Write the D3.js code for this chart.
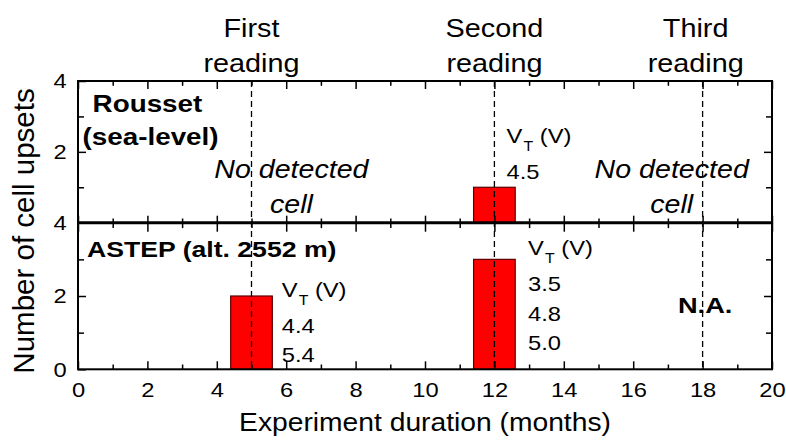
<!DOCTYPE html>
<html>
<head>
<meta charset="utf-8">
<script src="https://cdn.jsdelivr.net/npm/d3@7"></script>
<style>
  body { margin: 0; background: #fff; }
  svg { display: block; font-family: "Liberation Sans", Arial, sans-serif; }
</style>
</head>
<body>
<svg id="chart" width="786" height="440"></svg>
<script>
// data
const xMajor = [0, 2, 4, 6, 8, 10, 12, 14, 16, 18, 20];
const xMinor = [1, 3, 5, 7, 9, 11, 13, 15, 17, 19];
const readingMonths = [5, 12, 18];
const readingLabels = [['First', 'reading'], ['Second', 'reading'], ['Third', 'reading']];

const roussetBins = [[11.4, 12.6]];
const roussetCounts = [1];
const roussetVt = [['4.5']];

const astepBins = [[4.4, 5.6], [11.4, 12.6]];
const astepCounts = [2, 3];
const astepVt = [['4.4', '5.4'], ['3.5', '4.8', '5.0']];

const SX = 1.13; // glyphs in the figure are a bit wider than Arial
const SXB = 1.21; // same for the bold labels
const svg = d3.select('#chart');

const x = d3.scaleLinear().domain([0, 20]).range([78, 772]);
const yTop = d3.scaleLinear().domain([0, 4]).range([222.7, 81]);
const yBot = d3.scaleLinear().domain([0, 4]).range([369.3, 222.7]);

function label(g, px, py, str, o = {}) {
  return g.append('text')
    .attr('transform', `translate(${px},${py}) scale(${o.sx ?? SX},1)`)
    .attr('text-anchor', o.anchor || 'start')
    .attr('font-size', o.size || 21)
    .attr('font-weight', o.weight || 'normal')
    .attr('font-style', o.style || 'normal')
    .attr('fill', '#000')
    .text(str);
}

// styles an axis group: strip domain, set tick strokes
function styleAxis(g, width) {
  g.select('.domain').remove();
  g.selectAll('line').attr('stroke', '#000').attr('stroke-width', width || 1.5);
}

// bars
function drawBars(bins, counts, y) {
  svg.append('g').selectAll('rect')
    .data(bins)
    .join('rect')
    .attr('x', d => x(d[0]))
    .attr('width', d => x(d[1]) - x(d[0]))
    .attr('y', (d, i) => y(counts[i]))
    .attr('height', (d, i) => y(0) - y(counts[i]))
    .attr('fill', '#ff0000')
    .attr('stroke', '#5a0000')
    .attr('stroke-width', 1.2);
}
drawBars(roussetBins, roussetCounts, yTop);
drawBars(astepBins, astepCounts, yBot);

// dashed reading lines
svg.append('g').selectAll('line')
  .data(readingMonths)
  .join('line')
  .attr('x1', d => x(d)).attr('x2', d => x(d))
  .attr('y1', yTop(4)).attr('y2', yBot(0))
  .attr('stroke', '#000')
  .attr('stroke-width', 1.3)
  .attr('stroke-dasharray', '6,4');

// x ticks
const xAxes = [
  { y: yTop(4), gen: d3.axisTop, size: -8 },
  { y: yTop(0), gen: d3.axisBottom, size: -7 },
  { y: yBot(4), gen: d3.axisTop, size: -9 },
  { y: yBot(0), gen: d3.axisBottom, size: -8, labels: true }
];
xAxes.forEach(a => {
  const major = svg.append('g').attr('transform', `translate(0,${a.y})`)
    .call(a.gen(x).tickValues(xMajor).tickSize(a.size).tickSizeOuter(0).tickPadding(13)
      .tickFormat(a.labels ? d3.format('d') : ''));
  styleAxis(major);
  major.selectAll('text')
    .attr('font-size', 21).attr('fill', '#000')
    .attr('font-family', '"Liberation Sans", Arial, sans-serif')
    .attr('transform', `scale(${SX},1)`);
  const minor = svg.append('g').attr('transform', `translate(0,${a.y})`)
    .call(a.gen(x).tickValues(xMinor).tickSize(a.size * 0.6).tickSizeOuter(0).tickFormat(''));
  styleAxis(minor);
});

// y ticks
function yAxes(y, labelVals) {
  const left = svg.append('g').attr('transform', `translate(${x(0)},0)`)
    .call(d3.axisLeft(y).tickValues([0, 2, 4]).tickSize(-8).tickSizeOuter(0).tickPadding(10)
      .tickFormat(d => labelVals.includes(d) ? d : ''));
  styleAxis(left);
  left.selectAll('text')
    .attr('font-size', 21).attr('fill', '#000')
    .attr('font-family', '"Liberation Sans", Arial, sans-serif')
    .attr('transform', `scale(${SX},1)`);
  styleAxis(svg.append('g').attr('transform', `translate(${x(0)},0)`)
    .call(d3.axisLeft(y).tickValues([1, 3]).tickSize(-6).tickSizeOuter(0).tickFormat('')));
  styleAxis(svg.append('g').attr('transform', `translate(${x(20)},0)`)
    .call(d3.axisRight(y).tickValues([2]).tickSize(-8).tickSizeOuter(0).tickFormat('')));
  styleAxis(svg.append('g').attr('transform', `translate(${x(20)},0)`)
    .call(d3.axisRight(y).tickValues([1, 3]).tickSize(-6).tickSizeOuter(0).tickFormat('')));
}
yAxes(yTop, [2, 4]);
yAxes(yBot, [0, 2, 4]);

// frame
svg.append('rect')
  .attr('x', x(0)).attr('y', yTop(4))
  .attr('width', x(20) - x(0)).attr('height', yBot(0) - yTop(4))
  .attr('fill', 'none').attr('stroke', '#000').attr('stroke-width', 2);
svg.append('line')
  .attr('x1', x(0)).attr('x2', x(20))
  .attr('y1', yTop(0)).attr('y2', yTop(0))
  .attr('stroke', '#000').attr('stroke-width', 3);

// reading labels above the plot
readingMonths.forEach((m, i) => {
  const cx = i === 2 ? x(17.8) : x(m);
  label(svg, cx, 37, readingLabels[i][0], { anchor: 'middle', size: 25.5 });
  label(svg, cx, 71.5, readingLabels[i][1], { anchor: 'middle', size: 25.5 });
});

// panel titles
label(svg, x(0.42), yTop(3.13), 'Rousset', { weight: 'bold', size: 23, sx: SXB });
label(svg, x(0.13), yTop(2.18), '(sea-level)', { weight: 'bold', size: 23, sx: SXB });
label(svg, x(0.26), yBot(3.07), 'ASTEP (alt. 2552 m)', { weight: 'bold', size: 22, sx: SXB });
label(svg, x(17.29), yBot(1.53), 'N.A.', { weight: 'bold', size: 22.5, sx: SXB });

// "No detected cell"
[6.15, 17.11].forEach(cx => {
  label(svg, x(cx), yTop(1.26), 'No detected', { anchor: 'middle', style: 'italic', size: 26, sx: 1.1 });
  label(svg, x(cx), yTop(0.27), 'cell', { anchor: 'middle', style: 'italic', size: 26, sx: 1.1 });
});

// threshold voltage blocks
function vtBlock(px, py, values) {
  const t = label(svg, px, py, 'V', { size: 21 });
  t.append('tspan').attr('font-size', 14).attr('dx', 1).attr('dy', 8).text('T');
  t.append('tspan').attr('dy', -8).text('\u00a0(V)');
  values.forEach((v, i) => label(svg, px, py + 36 + i * 29.7, v, { size: 21 }));
}
vtBlock(x(12.35), yTop(2.25), roussetVt[0]);
vtBlock(x(5.87), yBot(1.98), astepVt[0]);
vtBlock(x(12.97), yBot(3.12), astepVt[1]);

// axis titles
label(svg, x(10), 431, 'Experiment duration (months)', { anchor: 'middle', size: 25 });
svg.append('text')
  .attr('transform', 'translate(34,231) rotate(-90)')
  .attr('text-anchor', 'middle')
  .attr('font-size', 29.5)
  .attr('fill', '#000')
  .text('Number of cell upsets');
</script>
</body>
</html>
